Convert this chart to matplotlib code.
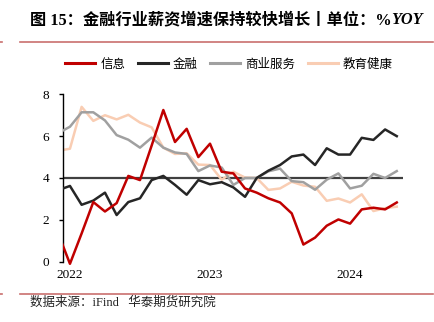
import matplotlib
matplotlib.use("Agg")
import matplotlib.pyplot as plt
from matplotlib.lines import Line2D
from matplotlib.patches import Rectangle

# month index 0 = 2021-12, 1 = 2022-01, ... 29 = 2024-05
info = [1.34, -0.1, 1.35, 2.85, 2.4, 2.8, 4.1, 3.9, 5.55, 7.25, 5.72, 6.35, 5.0, 5.64,
        4.3, 4.22, 3.5, 3.3, 3.03, 2.83, 2.31, 0.82, 1.15, 1.72, 2.02, 1.82, 2.5, 2.58, 2.5, 2.83]
finance = [3.42, 3.62, 2.72, 2.92, 3.3, 2.23, 2.85, 3.03, 3.9, 4.1, 3.67, 3.2, 3.9, 3.7,
           3.8, 3.55, 3.1, 4.0, 4.35, 4.62, 5.03, 5.12, 4.62, 5.42, 5.12, 5.12, 5.92, 5.82, 6.32, 6.0]
business = [6.15, 6.45, 7.14, 7.14, 6.75, 6.05, 5.83, 5.45, 5.93, 5.45, 5.22, 5.15, 4.33, 4.6,
            4.5, 3.67, 4.0, 4.0, 4.32, 4.45, 3.85, 3.8, 3.44, 3.92, 4.22, 3.5, 3.63, 4.2, 4.0, 4.33]
education = [5.3, 5.4, 7.4, 6.73, 7.0, 6.8, 7.02, 6.65, 6.42, 5.45, 5.15, 5.18, 4.64, 4.62,
             3.92, 4.3, 4.02, 4.0, 3.43, 3.5, 3.82, 3.64, 3.58, 2.91, 3.02, 2.83, 3.22, 2.42, 2.56, 2.63]
series_names = ["信息", "金融", "商业服务", "教育健康"]
series_colors = ["#C00000", "#262626", "#A0A0A0", "#F9CDB3"]
year_labels = ["2022", "2023", "2024"]
year_pos = [1, 13, 25]
ref_level = 4
y_ticks = [0, 2, 4, 6, 8]

W, H = 435, 322
fig = plt.figure(figsize=(W / 100, H / 100), dpi=100)

x0_px, x1_px = 63.3, 402.6
y0_px, y1_px = 261.7, 94.3
ax = fig.add_axes([x0_px / W, (H - y0_px) / H, (x1_px - x0_px) / W, (y0_px - y1_px) / H])

xs = list(range(len(info)))
ax.axhline(ref_level, color="#404040", lw=1.6, zorder=1)
clip_rect = Rectangle((0, -0.1), 1, 1.2, transform=ax.transAxes, facecolor="none", edgecolor="none")
ax.add_patch(clip_rect)
order = [(education, 3, 2), (business, 2, 3), (finance, 1, 4), (info, 0, 5)]
for data, ci, z in order:
    ln, = ax.plot(xs, data, color=series_colors[ci], lw=1.8, zorder=z)
    ln.set_clip_path(clip_rect)

ax.set_xlim(0.43, 29.5)
ax.set_ylim(0, 8)
for s in ["top", "right", "bottom"]:
    ax.spines[s].set_visible(False)
ax.spines["left"].set_linewidth(1.0)
ax.set_yticks(y_ticks)
ax.set_xticks(year_pos)
ax.set_xticklabels(year_labels)
ax.tick_params(axis="y", direction="out", length=3, width=1, pad=7)
ax.tick_params(axis="x", length=0, pad=5)
for lab in ax.get_xticklabels() + ax.get_yticklabels():
    lab.set_fontfamily("Liberation Serif")
    lab.set_fontsize(9.5)

# title
fam = ["Liberation Serif", "Noto Sans CJK SC"]
t1 = fig.text(30 / W, 1 - 20 / H, "图 15：金融行业薪资增速保持较快增长丨单位：%",
              fontsize=11.7, fontweight="bold", family=fam, va="center", ha="left")
fig.canvas.draw()
bb = t1.get_window_extent()
fig.text(bb.x1 / W, 1 - 20 / H, "YOY", fontsize=11.7, fontweight="bold", style="italic",
         family="Liberation Serif", va="center", ha="left")

# red rules
rule_c = "#C9706E"
for yy in [42, 294]:
    fig.add_artist(Line2D([20 / W, 433 / W], [1 - yy / H] * 2, color=rule_c, lw=1.2))
    fig.add_artist(Line2D([0, 2 / W], [1 - yy / H] * 2, color=rule_c, lw=1.2))

# legend
handles = [Line2D([], [], color=c, lw=2.2) for c in series_colors]
fig.legend(handles, series_names, loc="center", bbox_to_anchor=(229 / W, 1 - 64 / H), ncol=4,
           frameon=False, prop={"family": "Noto Sans CJK SC", "size": 9},
           handlelength=2.4, handletextpad=0.4, columnspacing=1.0, borderaxespad=0)

# source
fig.text(30 / W, 1 - 303 / H, "数据来源：iFind   华泰期货研究院", fontsize=9,
         family=fam, va="center", ha="left", color="#222222")

fig.savefig("out.png", dpi=100)
